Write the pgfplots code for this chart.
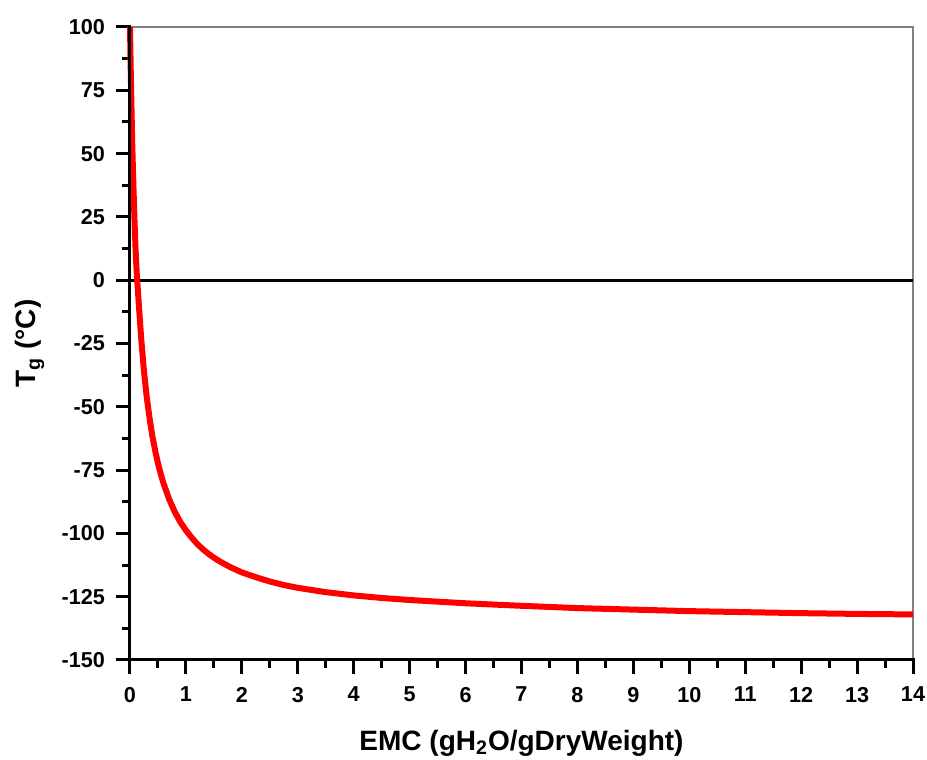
\documentclass[border=0pt]{standalone}
\usepackage{fontspec}
\setmainfont{Liberation Sans}
\usepackage{pgfplots}
\pgfplotsset{compat=1.18}
\begin{document}
\begin{tikzpicture}
\useasboundingbox (-65pt,-50pt) rectangle (398.5pt,330pt);
\begin{axis}[
  scale only axis,
  width=391.5pt, height=316.5pt,
  xmin=0, xmax=14, ymin=-150, ymax=100,
  xtick={0,1,...,14},
  ytick={-150,-125,...,100},
  minor x tick num=1,
  minor y tick num=1,
  tick pos=left,
  tick align=outside,
  major tick length=7pt,
  minor tick length=4pt,
  every tick/.style={black, line width=1.5pt},
  axis line style={draw=gray, line width=0.6pt},
  /pgf/number format/assume math mode=true,
  ticklabel style={font=\fontsize{10.8}{12}\selectfont\bfseries},
  xticklabel style={yshift=-3pt},
  yticklabel style={xshift=-2pt},
  xlabel={\fontsize{14}{16}\selectfont\bfseries EMC (gH\textsubscript{2}O/gDryWeight)},
  ylabel={\fontsize{14}{16}\selectfont\bfseries T\textsubscript{g} (°C)},
  xlabel style={at={(rel axis cs:0.5,0)}, anchor=center, yshift=-41.5pt},
  ylabel style={at={(rel axis cs:0,0.5)}, anchor=center, xshift=0pt, yshift=50pt},
  clip=false,
]
\addplot[black, line width=1.5pt] coordinates {(0,0) (14,0)};
\addplot[red, line width=3pt, line join=round] coordinates {
(0,100) (0.01,87) (0.02,75) (0.04,54) (0.06,38) (0.08,24) (0.1,12)
(0.12,3) (0.15,-7) (0.2,-23) (0.25,-36) (0.3,-46.3) (0.35,-54.5)
(0.4,-61.6) (0.45,-67.3) (0.5,-72.3) (0.55,-76.5) (0.6,-80.3) (0.7,-86.5)
(0.8,-91.5) (0.9,-95.5) (1.0,-98.8) (1.1,-101.6) (1.2,-104.1) (1.3,-106.2)
(1.4,-108.0) (1.5,-109.6) (1.6,-111.0) (1.8,-113.4) (2.0,-115.4)
(2.25,-117.3) (2.5,-119.0) (2.75,-120.4) (3,-121.5) (3.5,-123.2)
(4,-124.5) (4.5,-125.5) (5,-126.3) (6,-127.6) (7,-128.6) (8,-129.5)
(9,-130.1) (10,-130.7) (11,-131.1) (12,-131.5) (13,-131.8) (14,-132)};
\draw[black, line width=1.5pt, line cap=rect] (rel axis cs:0,1) -- (rel axis cs:0,0) -- (rel axis cs:1,0);
\end{axis}
\end{tikzpicture}
\end{document}
